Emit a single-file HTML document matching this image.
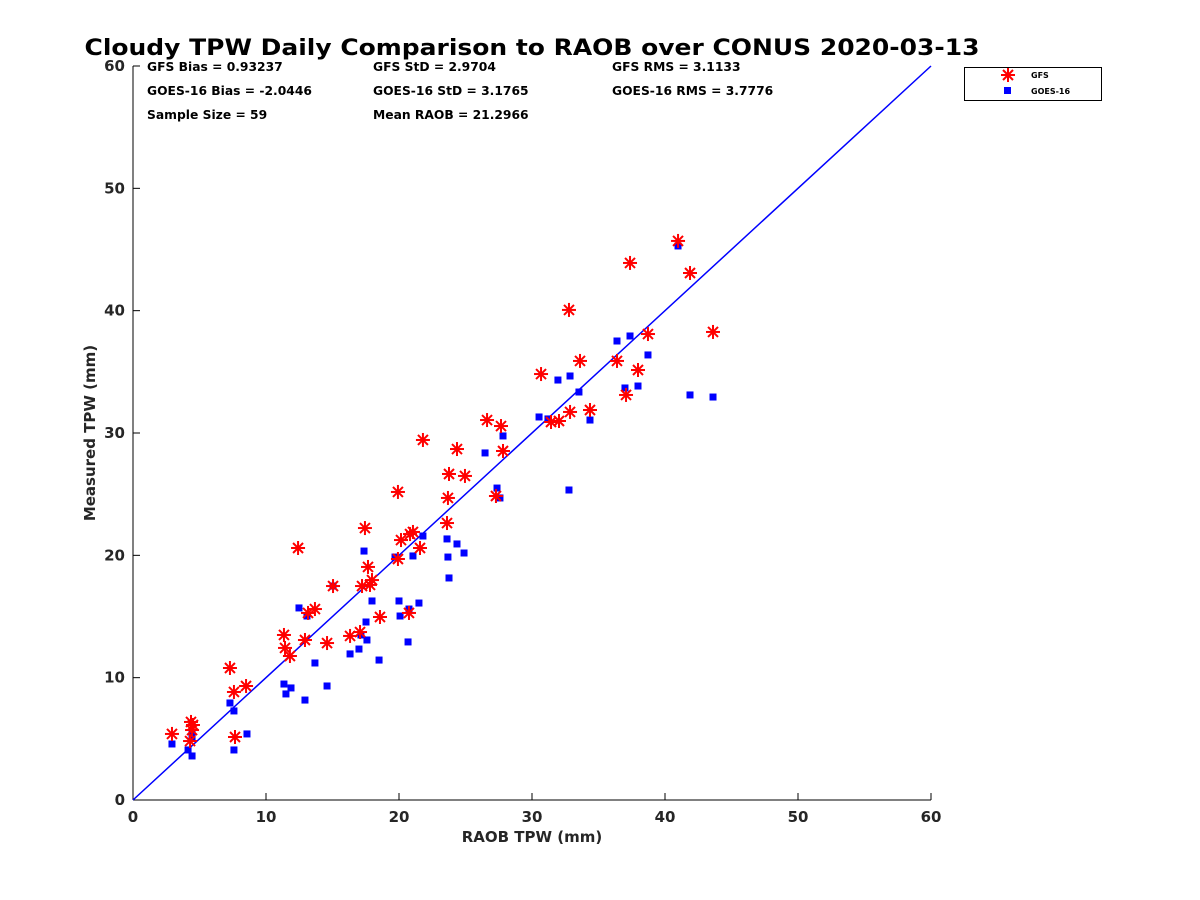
<!DOCTYPE html>
<html><head><meta charset="utf-8"><style>
body{margin:0;background:#fff;}
svg{display:block;font-family:"DejaVu Sans","Liberation Sans",sans-serif;}
</style></head><body>
<svg id="chart" width="1200" height="900">
<text x="532" y="55" text-anchor="middle" font-size="22" font-weight="bold" textLength="895" lengthAdjust="spacingAndGlyphs">Cloudy TPW Daily Comparison to RAOB over CONUS 2020-03-13</text>
<g font-size="12.3" font-weight="bold">
<text x="147" y="71">GFS Bias = 0.93237</text>
<text x="373" y="71">GFS StD = 2.9704</text>
<text x="612" y="71">GFS RMS = 3.1133</text>
<text x="147" y="95">GOES-16 Bias = -2.0446</text>
<text x="373" y="95">GOES-16 StD = 3.1765</text>
<text x="612" y="95">GOES-16 RMS = 3.7776</text>
<text x="147" y="119">Sample Size = 59</text>
<text x="373" y="119">Mean RAOB = 21.2966</text>
</g>
<g id="axes"></g>
<g id="marks"></g>
<g>
<rect x="964.5" y="67.5" width="137" height="33" fill="#fff" stroke="#000" stroke-width="1"/>
<g stroke="red" stroke-width="2">
<line x1="1008" y1="68" x2="1008" y2="82"/><line x1="1001" y1="75" x2="1015" y2="75"/><line x1="1003" y1="70" x2="1013" y2="80"/><line x1="1003" y1="80" x2="1013" y2="70"/></g>
<text x="1031" y="78" font-size="8" font-weight="bold">GFS</text>
<rect x="1004" y="87" width="7" height="7" fill="blue"/>
<text x="1031" y="94" font-size="8" font-weight="bold">GOES-16</text>
</g>
</svg>
<script>
const gfsX=[2.93,4.29,4.36,4.51,4.44,7.29,7.59,7.67,8.50,11.35,11.43,11.80,12.41,12.93,13.16,13.68,14.59,15.04,16.32,17.07,17.22,17.44,17.67,17.82,17.97,18.57,19.92,19.92,20.15,20.75,20.83,21.05,21.58,21.80,23.61,23.68,23.76,24.36,24.96,26.62,27.29,27.67,27.82,30.68,31.43,32.03,32.78,32.86,33.61,34.36,36.39,37.07,37.37,37.97,38.72,40.98,41.88,43.61];
const gfsY=[5.40,4.82,6.38,6.13,5.72,10.79,8.83,5.15,9.32,13.49,12.43,11.77,20.60,13.08,15.29,15.61,12.83,17.49,13.41,13.73,17.49,22.23,19.05,17.58,17.98,14.96,25.18,19.70,21.25,15.29,21.74,21.91,20.60,29.43,22.64,24.69,26.65,28.69,26.49,31.06,24.85,30.57,28.53,34.82,30.90,30.98,40.06,31.72,35.89,31.88,35.89,33.11,43.90,35.15,38.09,45.70,43.08,38.26];
const goesX=[2.93,4.14,4.44,4.44,4.44,7.29,7.59,7.59,8.57,11.35,11.50,11.88,12.48,12.93,13.08,13.68,14.59,15.04,16.32,16.99,17.14,17.37,17.52,17.59,17.97,18.50,19.70,20.00,20.08,20.68,20.75,21.05,21.50,21.80,23.61,23.68,23.76,24.36,24.89,26.47,27.37,27.59,27.82,30.53,31.20,31.95,32.78,32.86,33.53,34.36,36.39,36.99,37.37,37.97,38.72,40.98,41.88,43.61];
const goesY=[4.58,4.09,5.15,5.48,3.60,7.93,7.28,4.09,5.40,9.48,8.67,9.16,15.70,8.17,15.04,11.20,9.32,17.49,11.94,12.34,13.49,20.35,14.55,13.08,16.27,11.44,19.86,16.27,15.04,12.92,15.61,19.95,16.10,21.58,21.34,19.86,18.15,20.93,20.19,28.37,25.50,24.69,29.76,31.31,31.15,34.33,25.34,34.66,33.35,31.06,37.52,33.68,37.93,33.84,36.38,45.29,33.11,32.94];
const xTicks=[0,10,20,30,40,50,60];
const yTicks=[0,10,20,30,40,50,60];
const NS="http://www.w3.org/2000/svg";
const X0=133,X1=931,Y0=800,Y1=66;
const sx=v=>X0+(v/60)*(X1-X0);
const sy=v=>Y0-(v/60)*(Y0-Y1);
function mk(tag,attrs,parent){const e=document.createElementNS(NS,tag);for(const k in attrs)e.setAttribute(k,attrs[k]);parent.appendChild(e);return e;}
const axes=document.getElementById('axes'),marks=document.getElementById('marks');
let ax=mk('line',{x1:X0,y1:Y0,x2:X1,y2:Y0,stroke:'#000','stroke-width':1},axes);


let ay=mk('line',{x1:X0,y1:Y0,x2:X0,y2:Y1,stroke:'#000','stroke-width':1},axes);


xTicks.forEach(t=>{const x=sx(t);
mk('line',{x1:x,y1:Y0,x2:x,y2:Y0-7,stroke:'#000'},axes);
const tx=mk('text',{x:x,y:Y0+22,'text-anchor':'middle','font-size':15,'font-weight':'bold',fill:'#262626'},axes);tx.textContent=t;

});
yTicks.forEach(t=>{const y=sy(t);
mk('line',{x1:X0,y1:y,x2:X0+7,y2:y,stroke:'#000'},axes);
const tx=mk('text',{x:X0-8,y:y+5,'text-anchor':'end','font-size':15,'font-weight':'bold',fill:'#262626'},axes);tx.textContent=t;

});
const xt=mk('text',{x:532,y:842,'text-anchor':'middle','font-size':15,'font-weight':'bold',fill:'#262626'},axes);xt.textContent='RAOB TPW (mm)';


const yt=mk('text',{x:95,y:433,'text-anchor':'middle','font-size':15,'font-weight':'bold',fill:'#262626',transform:'rotate(-90 95 433)'},axes);yt.textContent='Measured TPW (mm)';


const ref=mk('line',{x1:sx(0),y1:sy(0),x2:sx(60),y2:sy(60),stroke:'blue','stroke-width':1.5},marks);


goesX.forEach((v,i)=>{const r=mk('rect',{x:sx(v)-3.5,y:sy(goesY[i])-3.5,width:7,height:7,fill:'blue'},marks);

});
gfsX.forEach((v,i)=>{const cx=sx(v),cy=sy(gfsY[i]);
const g=mk('g',{stroke:'red','stroke-width':2},marks);


mk('line',{x1:cx,y1:cy-7,x2:cx,y2:cy+7},g);mk('line',{x1:cx-7,y1:cy,x2:cx+7,y2:cy},g);
mk('line',{x1:cx-5,y1:cy-5,x2:cx+5,y2:cy+5},g);mk('line',{x1:cx-5,y1:cy+5,x2:cx+5,y2:cy-5},g);});
</script>
</body></html>
